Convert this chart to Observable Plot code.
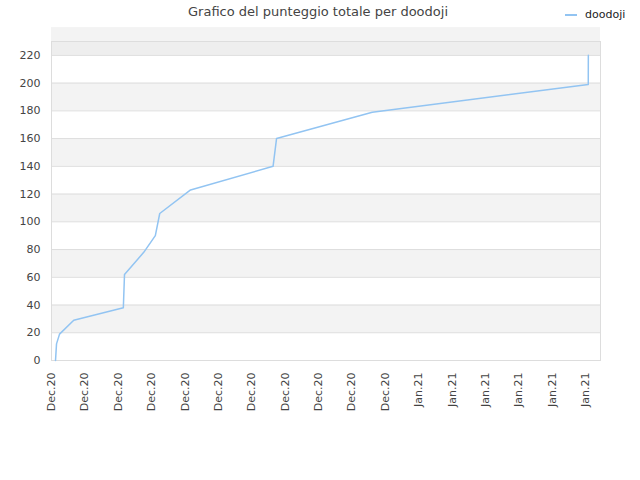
<!DOCTYPE html>
<html>
<head>
<meta charset="utf-8">
<script src="https://cdn.jsdelivr.net/npm/d3@7"></script>
<script src="https://cdn.jsdelivr.net/npm/@observablehq/plot@0.6"></script>
<style>
  body { margin: 0; background: #fff; font-family: "DejaVu Sans", sans-serif; }
  #wrap { position: relative; width: 640px; height: 480px; }
  #title { position: absolute; left: 0; width: 636px; top: 4px; text-align: center; font-size: 13px; color: #444; }
  #legend { position: absolute; left: 565px; top: 8px; font-size: 11px; color: #222; display: flex; align-items: center; }
  #legend .sw { width: 12px; height: 2px; background: #92c4f2; margin-right: 8px; }
</style>
</head>
<body>
<div id="wrap">
  <div id="chart"></div>
  <div id="title">Grafico del punteggio totale per doodoji</div>
  <div id="legend"><span class="sw"></span><span>doodoji</span></div>
</div>
<script>
const seriesName = "doodoji";
const times = [
  "2020-12-01T08:40Z", "2020-12-01T10:50Z", "2020-12-01T17:20Z", "2020-12-03T00:00Z",
  "2020-12-07T11:00Z", "2020-12-07T13:30Z", "2020-12-09T07:00Z", "2020-12-10T08:00Z",
  "2020-12-10T17:30Z", "2020-12-13T12:00Z", "2020-12-20T22:00Z", "2020-12-21T05:30Z",
  "2020-12-29T20:00Z", "2021-01-18T06:00Z", "2021-01-18T06:10Z"
];
const scores = [0, 12, 19, 29, 38, 62, 78, 90, 106, 123, 140, 160, 179, 199, 220];
const xTicks = [
  "2020-12-01", "2020-12-04", "2020-12-07", "2020-12-10", "2020-12-13", "2020-12-16",
  "2020-12-19", "2020-12-22", "2020-12-25", "2020-12-28", "2020-12-31",
  "2021-01-03", "2021-01-06", "2021-01-09", "2021-01-12", "2021-01-15", "2021-01-18"
];
const yTicks = [0, 20, 40, 60, 80, 100, 120, 140, 160, 180, 200, 220];
const xDomain = ["2020-12-01T00:00Z", "2021-01-19T08:24Z"];
const yMax = 230;

const data = times.map((t, i) => ({date: new Date(t), score: scores[i]}));
const bands = yTicks.filter((v, i) => i % 2 === 1).map(v => ({y1: v, y2: v + 20}));
const topBand = [{y1: yTicks[yTicks.length - 1], y2: yMax}];

const chart = Plot.plot({
  width: 640,
  height: 480,
  marginLeft: 51,
  marginRight: 40,
  marginTop: 41,
  marginBottom: 120,
  style: {fontFamily: "DejaVu Sans, sans-serif", fontSize: "11px", color: "#444", background: "#fff"},
  x: {type: "utc", domain: xDomain.map(d => new Date(d)), label: null},
  y: {domain: [0, yMax], label: null},
  marks: [
    Plot.rectY(bands, {x1: () => new Date(xDomain[0]), x2: () => new Date(xDomain[1]), y1: "y1", y2: "y2", fill: "#f3f3f3"}),
    Plot.rectY(topBand, {x1: () => new Date(xDomain[0]), x2: () => new Date(xDomain[1]), y1: "y1", y2: "y2", fill: "#eeeeee"}),
    Plot.ruleY(yTicks, {stroke: "#dddddd", strokeWidth: 1}),
    Plot.frame({stroke: "#dddddd"}),
    Plot.axisY({ticks: yTicks, tickSize: 0, tickPadding: 11, fontSize: 11}),
    Plot.axisX({ticks: xTicks.map(d => new Date(d)), tickFormat: d3.utcFormat("%b.%y"), tickRotate: -90, tickSize: 0, tickPadding: 12, fontSize: 11}),
    Plot.line(data, {x: "date", y: "score", stroke: "#92c4f2", strokeWidth: 1.5})
  ]
});
document.getElementById("chart").appendChild(chart);
</script>
</body>
</html>
